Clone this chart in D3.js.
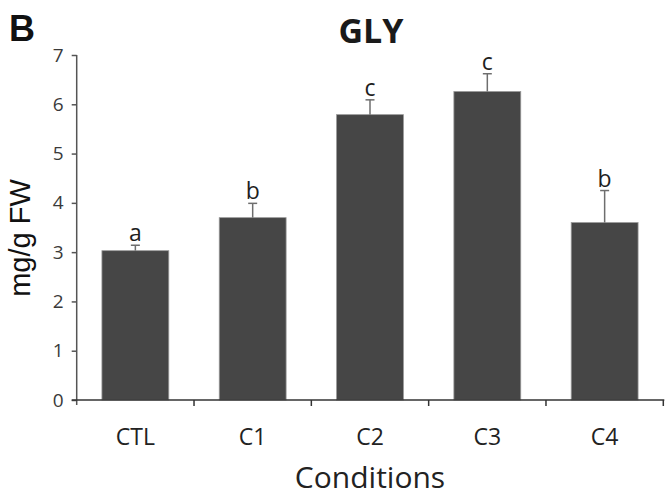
<!DOCTYPE html>
<html>
<head>
<meta charset="utf-8">
<script src="https://cdn.jsdelivr.net/npm/d3@7"></script>
<style>
  html, body { margin: 0; padding: 0; background: #fff; }
  svg { display: block; }
</style>
</head>
<body>
<svg id="chart" width="666" height="498"></svg>
<script>
// GLY content per condition (mg/g FW), upper standard error, and significance letters
const categories = ["CTL", "C1", "C2", "C3", "C4"];
const values = [3.03, 3.70, 5.79, 6.26, 3.60];
const errors = [0.11, 0.29, 0.30, 0.36, 0.65];
const letters = ["a", "b", "c", "c", "b"];
const yTicks = [0, 1, 2, 3, 4, 5, 6, 7];

const svg = d3.select("#chart");
const font = "'Open Sans', 'Noto Sans', sans-serif";

const plotLeft = 76.7, plotRight = 663.3, plotTop = 55, plotBottom = 400;

const x = d3.scaleBand()
  .domain(categories)
  .range([plotLeft, plotRight])
  .paddingInner(0.43)
  .paddingOuter(0.215);

const y = d3.scaleLinear().domain([0, 7]).range([plotBottom, plotTop]);

// bars
svg.append("g").selectAll("rect")
  .data(categories)
  .join("rect")
  .attr("x", d => x(d))
  .attr("width", x.bandwidth())
  .attr("y", (d, i) => y(values[i]))
  .attr("height", (d, i) => y(0) - y(values[i]))
  .attr("fill", "#464646")
  .attr("stroke", "#9a9a9a")
  .attr("stroke-width", 0.8);

// upper error bars
const eg = svg.append("g").attr("stroke", "#6e6e6e").attr("stroke-width", 1.5);
categories.forEach((c, i) => {
  const cx = x(c) + x.bandwidth() / 2;
  eg.append("line")
    .attr("x1", cx).attr("x2", cx)
    .attr("y1", y(values[i])).attr("y2", y(values[i] + errors[i]));
  eg.append("line")
    .attr("x1", cx - 4.5).attr("x2", cx + 4.5)
    .attr("y1", y(values[i] + errors[i])).attr("y2", y(values[i] + errors[i]));
});

// significance letters
svg.append("g").selectAll("text")
  .data(categories)
  .join("text")
  .attr("x", d => x(d) + x.bandwidth() / 2)
  .attr("y", (d, i) => y(values[i] + errors[i]) - 4)
  .attr("text-anchor", "middle")
  .attr("font-family", font)
  .attr("font-size", 23)
  .attr("fill", "#1e1e1e")
  .text((d, i) => letters[i]);

// y axis
const yAxis = svg.append("g")
  .attr("transform", `translate(${plotLeft},0)`)
  .call(d3.axisLeft(y).tickValues(yTicks).tickSize(5).tickPadding(8).tickFormat(d3.format("d")));
yAxis.select(".domain").attr("stroke", "#555").attr("stroke-width", 1.5)
  .attr("d", `M0,${plotTop}V${plotBottom + 5}`);
yAxis.selectAll(".tick line").attr("stroke", "#555").attr("stroke-width", 1.5);
yAxis.selectAll(".tick text")
  .attr("font-family", font).attr("font-size", 19).attr("fill", "#3a3a3a");

// x axis: line with ticks at category boundaries
const xg = svg.append("g").attr("stroke", "#333").attr("stroke-width", 1.5);
xg.append("line").attr("x1", plotLeft - 5).attr("x2", plotRight + 1)
  .attr("y1", plotBottom).attr("y2", plotBottom);
const step = x.step();
const bounds = d3.range(categories.length + 1).map(i => plotLeft + i * step);
xg.selectAll("line.tk")
  .data(bounds.slice(1))
  .join("line")
  .attr("class", "tk")
  .attr("x1", d => d).attr("x2", d => d)
  .attr("y1", plotBottom).attr("y2", plotBottom + 6);

svg.append("g").selectAll("text")
  .data(categories)
  .join("text")
  .attr("x", d => x(d) + x.bandwidth() / 2)
  .attr("y", 445)
  .attr("text-anchor", "middle")
  .attr("font-family", font)
  .attr("font-size", 23)
  .attr("fill", "#222")
  .text(d => d);

// axis titles
svg.append("text")
  .attr("x", 370).attr("y", 488)
  .attr("text-anchor", "middle")
  .attr("font-family", font)
  .attr("font-size", 30)
  .attr("fill", "#222")
  .text("Conditions");

svg.append("text")
  .attr("transform", "translate(30,238) rotate(-90)")
  .attr("text-anchor", "middle")
  .attr("font-family", "'Liberation Sans', Arial, sans-serif")
  .attr("font-size", 29)
  .attr("fill", "#111")
  .text("mg/g FW");

// title and panel letter
svg.append("text")
  .attr("x", 371).attr("y", 43)
  .attr("text-anchor", "middle")
  .attr("font-family", font)
  .attr("font-weight", "bold")
  .attr("font-size", 34)
  .attr("fill", "#1a1a1a")
  .text("GLY");

svg.append("text")
  .attr("x", 9).attr("y", 41)
  .attr("font-family", "'Liberation Sans', Arial, sans-serif")
  .attr("font-weight", "bold")
  .attr("font-size", 36)
  .attr("fill", "#111")
  .text("B");
</script>
</body>
</html>
